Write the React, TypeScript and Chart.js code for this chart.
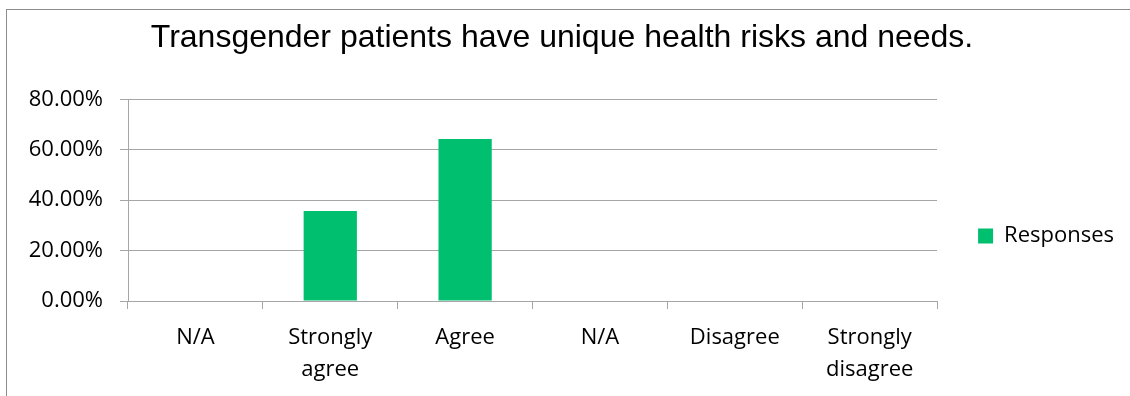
import React, { useEffect, useRef } from "react";
import { Chart, registerables } from "chart.js";

Chart.register(...registerables);

const TITLE = "Transgender patients have unique health risks and needs.";
const CATEGORIES: (string | string[])[] = [
  "N/A",
  ["Strongly", "agree"],
  "Agree",
  "N/A",
  "Disagree",
  ["Strongly", "disagree"],
];
const SERIES_NAME = "Responses";
const RESPONSES = [0, 35.71, 64.29, 0, 0, 0];
const Y_MIN = 0;
const Y_MAX = 80;
const Y_STEP = 20;

const GREEN = "#00BF6F";
const GRID = "#a6a6a6";
const TEXT_FONT = "'Open Sans', 'DejaVu Sans', sans-serif";
const TITLE_FONT = "'Liberation Sans', Arial, sans-serif";

export default function App() {
  const canvasRef = useRef<HTMLCanvasElement | null>(null);

  useEffect(() => {
    if (!canvasRef.current) return;
    const chart = new Chart(canvasRef.current, {
      type: "bar",
      data: {
        labels: CATEGORIES,
        datasets: [
          {
            label: SERIES_NAME,
            data: RESPONSES,
            backgroundColor: GREEN,
            borderWidth: 0,
            categoryPercentage: 1,
            barPercentage: 0.395,
          },
        ],
      },
      options: {
        animation: false,
        responsive: false,
        maintainAspectRatio: false,
        devicePixelRatio: 1,
        layout: { padding: { left: 0, right: 6, top: 0, bottom: 0 } },
        plugins: {
          title: {
            display: true,
            text: TITLE,
            color: "#000",
            font: { family: TITLE_FONT, size: 32, weight: "normal", lineHeight: 1.2 },
            padding: { top: 19, bottom: 42 },
          },
          legend: {
            display: true,
            position: "right",
            align: "center",
            title: {
              display: true,
              text: "",
              font: { size: 1, lineHeight: 1 },
              padding: { top: 75, bottom: 0 },
            },
            labels: {
              color: "#000",
              font: { family: TEXT_FONT, size: 22, lineHeight: 1.2 },
              boxWidth: 15,
              boxHeight: 15,
              padding: 41,
            },
          },
          tooltip: { enabled: false },
        },
        scales: {
          x: {
            afterFit: (scale: any) => {
              scale.height = 95;
            },
            grid: {
              display: true,
              drawOnChartArea: false,
              drawTicks: true,
              tickLength: 8,
              offset: true,
              color: GRID,
            },
            border: { display: true, color: GRID },
            ticks: {
              color: "#000",
              padding: 13,
              maxRotation: 0,
              autoSkip: false,
              font: { family: TEXT_FONT, size: 22, lineHeight: 32 / 22 },
            },
          },
          y: {
            min: Y_MIN,
            max: Y_MAX,
            afterFit: (scale: any) => {
              scale.width = 128;
            },
            grid: {
              display: true,
              drawOnChartArea: true,
              drawTicks: true,
              tickLength: 8,
              color: GRID,
            },
            border: { display: true, color: GRID },
            ticks: {
              stepSize: Y_STEP,
              color: "#000",
              padding: 17,
              font: { family: TEXT_FONT, size: 22 },
              callback: (v: any) => Number(v).toFixed(2) + "%",
            },
          },
        },
      },
    });
    return () => chart.destroy();
  }, []);

  return (
    <div
      style={{
        position: "fixed",
        left: 0,
        top: 0,
        width: 1130,
        height: 396,
        background: "#fff",
        overflow: "hidden",
      }}
    >
      <div
        style={{
          position: "absolute",
          left: 6,
          top: 9,
          right: -10,
          bottom: -10,
          borderLeft: "1px solid #8c8c8c",
          borderTop: "1px solid #8c8c8c",
        }}
      />
      <canvas
        ref={canvasRef}
        width={1130}
        height={396}
        style={{ position: "absolute", left: 0, top: 0, width: 1130, height: 396 }}
      />
    </div>
  );
}
